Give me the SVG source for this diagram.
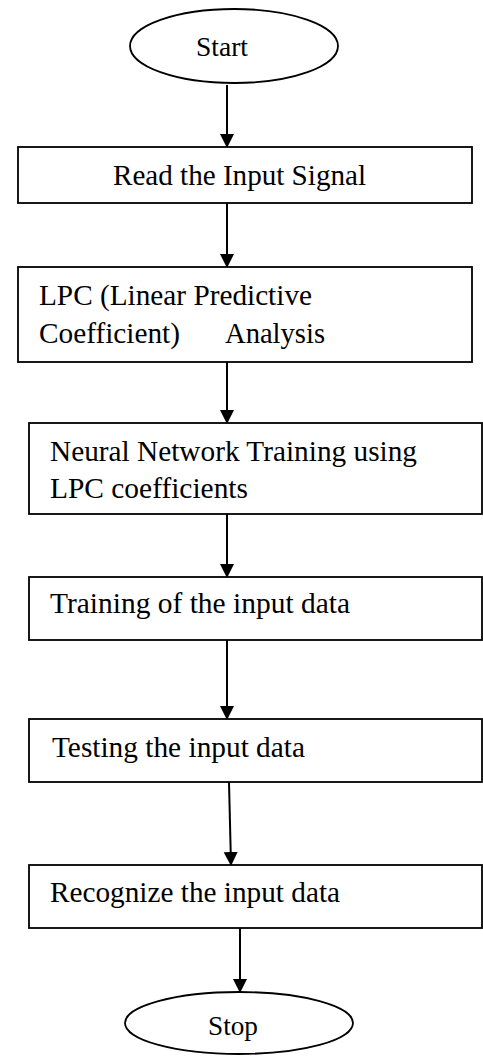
<svg xmlns="http://www.w3.org/2000/svg" width="483" height="1056" viewBox="0 0 483 1056">
<style>
.shape{fill:#fff;stroke:#000;stroke-width:1.8}
.t{font-family:"Liberation Serif","Times New Roman",serif;font-size:29px;fill:#000}
.s{font-size:28px}
.c{stroke:#000;stroke-width:2;fill:none}
</style>
<defs>
<marker id="ah" markerUnits="userSpaceOnUse" markerWidth="14" markerHeight="15" refX="13" refY="7" orient="auto">
<path d="M0,0 L14,7 L0,14 Z" fill="#000"/>
</marker>
</defs>
<rect width="483" height="1056" fill="#fff"/>
<g id="connectors">
<line class="c" x1="227" y1="85" x2="227" y2="147" marker-end="url(#ah)"/>
<line class="c" x1="227" y1="203" x2="227" y2="267" marker-end="url(#ah)"/>
<line class="c" x1="227" y1="362" x2="227" y2="423" marker-end="url(#ah)"/>
<line class="c" x1="227" y1="514" x2="227" y2="577" marker-end="url(#ah)"/>
<line class="c" x1="227" y1="640" x2="227" y2="719" marker-end="url(#ah)"/>
<line class="c" x1="229" y1="782" x2="231" y2="865" marker-end="url(#ah)"/>
<line class="c" x1="240" y1="928" x2="240" y2="992" marker-end="url(#ah)"/>
</g>
<g id="start">
<ellipse class="shape" cx="234" cy="46" rx="104" ry="37"/>
<text class="t s" x="196" y="56" textLength="52" lengthAdjust="spacingAndGlyphs">Start</text>
</g>
<g id="read">
<rect class="shape" x="18" y="147" width="454" height="56"/>
<text class="t" x="113" y="185" textLength="253" lengthAdjust="spacingAndGlyphs">Read the Input Signal</text>
</g>
<g id="lpc">
<rect class="shape" x="18" y="267" width="454" height="95"/>
<text class="t" x="39" y="305" textLength="273" lengthAdjust="spacingAndGlyphs">LPC (Linear Predictive</text>
<text class="t" x="39" y="343" textLength="141" lengthAdjust="spacingAndGlyphs">Coefficient)</text>
<text class="t" x="225" y="343" textLength="100" lengthAdjust="spacingAndGlyphs">Analysis</text>
</g>
<g id="nn">
<rect class="shape" x="29" y="423" width="453" height="91"/>
<text class="t" x="50" y="461" textLength="367" lengthAdjust="spacingAndGlyphs">Neural Network Training using</text>
<text class="t" x="50" y="498" textLength="198" lengthAdjust="spacingAndGlyphs">LPC coefficients</text>
</g>
<g id="training">
<rect class="shape" x="29" y="577" width="453" height="63"/>
<text class="t" x="50" y="613" textLength="300" lengthAdjust="spacingAndGlyphs">Training of the input data</text>
</g>
<g id="testing">
<rect class="shape" x="29" y="719" width="453" height="63"/>
<text class="t" x="52" y="757" textLength="253" lengthAdjust="spacingAndGlyphs">Testing the input data</text>
</g>
<g id="recognize">
<rect class="shape" x="29" y="865" width="453" height="63"/>
<text class="t" x="50" y="902" textLength="290" lengthAdjust="spacingAndGlyphs">Recognize the input data</text>
</g>
<g id="stop">
<ellipse class="shape" cx="239" cy="1023" rx="114" ry="31"/>
<text class="t s" x="208" y="1035" textLength="50" lengthAdjust="spacingAndGlyphs">Stop</text>
</g>
</svg>
